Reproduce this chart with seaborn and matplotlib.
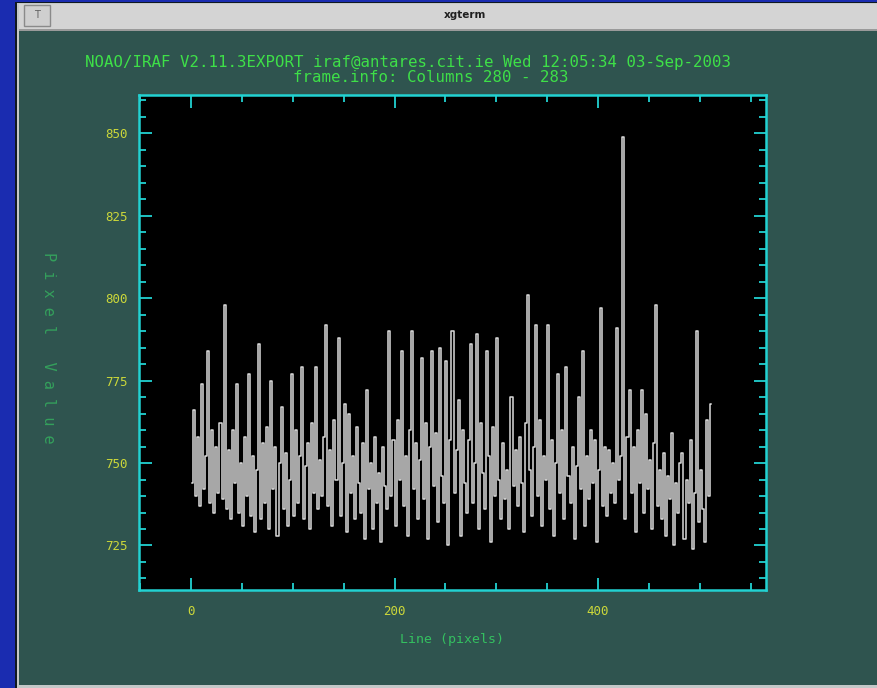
import numpy as np
import pandas as pd
import matplotlib
matplotlib.use("Agg")
import matplotlib.pyplot as plt
from matplotlib.patches import Rectangle
from matplotlib.ticker import MultipleLocator
import seaborn as sns

# ---- data (pixel values, every 2nd image line) ----
line_start = 1
line_step = 2
pixel_values = [
    744, 766, 740, 758, 737, 774, 742, 752, 784, 738, 760, 735, 755, 741, 762, 739,
    798, 736, 754, 733, 760, 744, 774, 735, 750, 731, 758, 740, 777, 734, 752, 729,
    748, 786, 733, 756, 738, 761, 730, 775, 742, 755, 728, 750, 767, 736, 753, 731,
    745, 777, 734, 760, 738, 752, 779, 733, 749, 756, 730, 762, 741, 779, 736, 751,
    740, 758, 792, 737, 754, 731, 763, 745, 788, 734, 750, 768, 729, 765, 741, 752,
    733, 761, 744, 735, 756, 727, 772, 742, 750, 730, 758, 738, 747, 726, 755, 743,
    736, 790, 740, 757, 731, 763, 745, 784, 737, 752, 728, 760, 790, 742, 756, 733,
    751, 782, 739, 762, 727, 755, 784, 743, 759, 732, 785, 746, 738, 781, 725, 757,
    790, 741, 754, 769, 728, 760, 744, 735, 757, 786, 738, 750, 789, 730, 762, 747,
    736, 784, 752, 726, 761, 740, 788, 745, 733, 756, 739, 748, 730, 770, 743, 754,
    737, 758, 744, 729, 762, 801, 748, 734, 755, 792, 740, 763, 731, 752, 745, 792,
    736, 757, 728, 750, 777, 741, 760, 733, 779, 746, 738, 755, 727, 749, 770, 742,
    784, 731, 752, 739, 760, 744, 757, 726, 748, 797, 737, 755, 734, 754, 741, 750,
    738, 791, 745, 752, 849, 733, 758, 772, 741, 755, 729, 760, 744, 772, 735, 765,
    742, 751, 730, 756, 798, 737, 748, 733, 753, 728, 746, 739, 759, 725, 744, 735,
    750, 753, 727, 745, 738, 757, 724, 741, 790, 732, 748, 736, 726, 763, 740, 768,
]
line_numbers = np.arange(len(pixel_values)) * line_step + line_start

title_line1 = "NOAO/IRAF V2.11.3EXPORT iraf@antares.cit.ie Wed 12:05:34 03-Sep-2003"
title_line2 = "frame.info: Columns 280 - 283"
x_label = "Line (pixels)"
y_label = "Pixel Value"
x_ticks = [0, 200, 400]
y_ticks = [725, 750, 775, 800, 825, 850]

df = pd.DataFrame({"line": line_numbers, "value": pixel_values})

# ---- figure / window chrome ----
W, H = 878, 688
fig = plt.figure(figsize=(W / 100, H / 100), dpi=100)
fig.patch.set_facecolor("#1a2cb0")


def box(x0, y0, x1, y1, color, **kw):
    r = Rectangle((x0 / W, 1 - y1 / H), (x1 - x0) / W, (y1 - y0) / H,
                  transform=fig.transFigure, facecolor=color, edgecolor="none",
                  zorder=-10, **kw)
    fig.add_artist(r)
    return r


box(15, 2, W, H, "#101820")            # dark outer border
box(17, 3, W, H, "#c4c8c8")            # light window edge
box(19, 4, W, 30, "#d4d4d4")           # title bar
box(19, 29, W, 31, "#9a9a9a")          # title bar bottom line
box(19, 31, W, 685, "#2f544f")         # terminal body
r = Rectangle((24 / W, 1 - 26 / H), 26 / W, 21 / H, transform=fig.transFigure,
              facecolor="#cfcfcf", edgecolor="#8a8a8a", linewidth=1, zorder=-9)
fig.add_artist(r)
fig.text(37 / W, 1 - 15 / H, "T", ha="center", va="center", fontsize=7,
         color="#606060", family="DejaVu Sans")
fig.text(465 / W, 1 - 15 / H, "xgterm", ha="center", va="center", fontsize=7.5,
         color="#202020", fontweight="bold", family="DejaVu Sans")

# ---- plot ----
mono = "DejaVu Sans Mono"
ax = fig.add_axes([139 / W, (H - 590) / H, (766 - 139) / W, (590 - 95) / H])
ax.set_zorder(5)
ax.set_facecolor("black")
sns.lineplot(data=df, x="line", y="value", ax=ax, color="#dadada",
             linewidth=1.1, estimator=None, sort=False, drawstyle="steps-mid")

ax.set_xlim(-51.1, 565.1)
ax.set_ylim(711.5, 861.6)
ax.set_xticks(x_ticks)
ax.set_yticks(y_ticks)
ax.xaxis.set_minor_locator(MultipleLocator(50))
ax.yaxis.set_minor_locator(MultipleLocator(5))

cyan = "#22d2d2"
for s in ax.spines.values():
    s.set_color(cyan)
    s.set_linewidth(1.8)
ax.tick_params(which="both", direction="in", top=True, right=True,
               color=cyan, width=1.3)
ax.tick_params(which="major", length=9)
ax.tick_params(which="minor", length=5)
ax.tick_params(axis="y", which="major", pad=8)
ax.tick_params(axis="x", which="major", pad=11)
for lab in ax.get_xticklabels() + ax.get_yticklabels():
    lab.set_color("#ccd83a")
    lab.set_fontsize(9)
    lab.set_family(mono)

ax.set_xlabel("")
ax.set_ylabel("")
fig.text(452 / W, 1 - 640 / H, x_label, ha="center", va="center", fontsize=9.5,
         color="#34c060", family=mono)
fig.text(48 / W, 1 - 348 / H, " ".join(y_label), ha="center", va="center",
         rotation=270, fontsize=11, color="#34a05c", family=mono)

fig.text(408 / W, 1 - 62 / H, title_line1, ha="center", va="center",
         fontsize=11.3, color="#3ee048", family=mono)
fig.text(431 / W, 1 - 78 / H, title_line2, ha="center", va="center",
         fontsize=11.3, color="#3ee048", family=mono)

fig.savefig("out.png", dpi=100, facecolor=fig.get_facecolor())
